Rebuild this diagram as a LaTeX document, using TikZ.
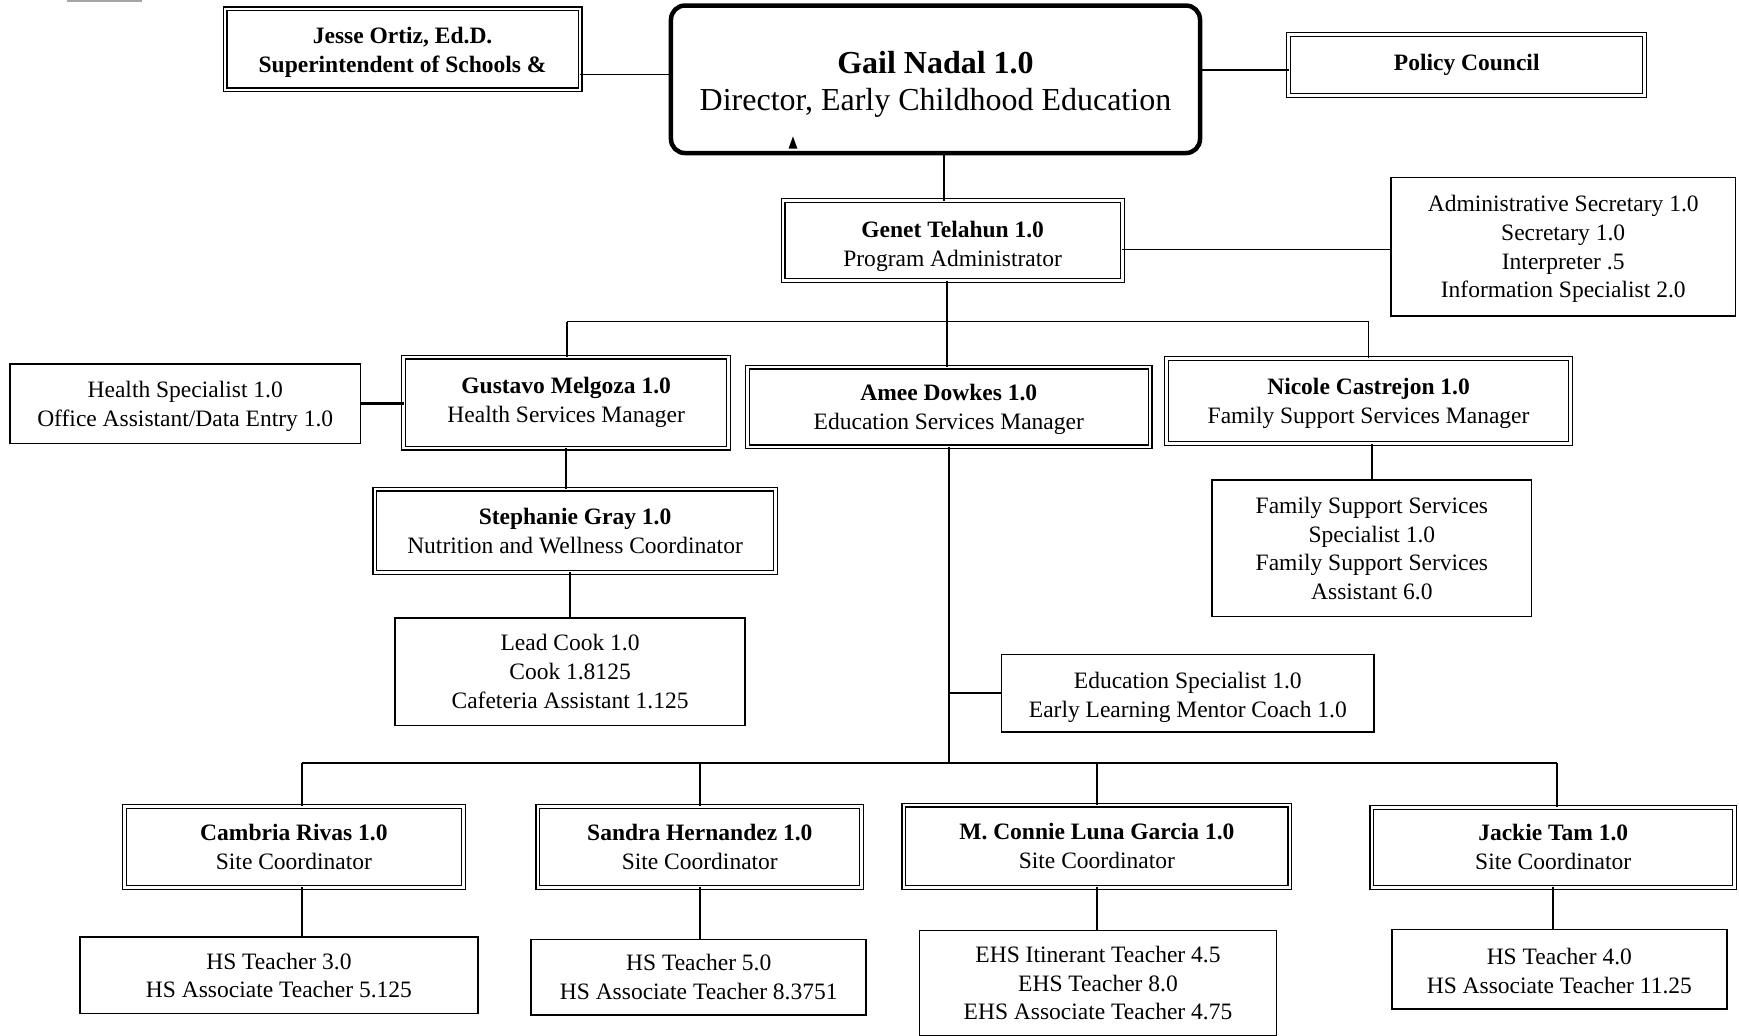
\documentclass[tikz,border=0pt]{standalone}
\usepackage{fontspec}
\setmainfont{Liberation Serif}
\usetikzlibrary{calc}
% invisible strut that sets the height of a first line
\newcommand{\toprule}[1]{\rule{0pt}{#1}}
\begin{document}
\begin{tikzpicture}[x=1.109pt,y=-1.109pt,
  every node/.style={inner sep=0pt, outer sep=0pt, align=center,
    font=\fontsize{23.5}{28.8}\selectfont},
  % a box spanning the corners (#1,#2) and (#3,#4)
  span/.style n args={4}{at={({(#1+#3)/2},{(#2+#4)/2})},
    minimum width={(#3-#1)*1.109pt}, minimum height={(#4-#2)*1.109pt}},
  plainbox/.style={draw, line width=1.6pt},
  dblbox/.style={draw, line width=1.2pt, double, double distance=2.6pt},
  headbox/.style={draw, line width=4.5pt, rounded corners=14pt,
    font=\fontsize{32}{36.6}\selectfont},
  link/.style={line width=1.7pt},
  heavylink/.style={line width=2.8pt}]
\useasboundingbox (0,0) rectangle (1568,934);

% stray mark along the top edge
\draw[gray!70, line width=2.5pt] (60,1) -- (128,1);

% top row
\node[dblbox, span={203}{8}{523}{81}] (jesse)
  {\toprule{23pt}\textbf{Jesse Ortiz, Ed.D.}\\\textbf{Superintendent of Schools \&}};
\node[headbox, span={605}{5}{1082}{138}] (dir)
  {\toprule{32pt}\textbf{Gail Nadal 1.0}\\Director, Early Childhood Education};
\node[dblbox, span={1162}{31}{1483}{86}] (pol) {\textbf{Policy Council}};
\fill (711,134) -- (715,123) -- (719,134) -- cycle;

% program administration
\node[dblbox, span={706}{181}{1012}{253}] (genet)
  {\toprule{27pt}\textbf{Genet Telahun 1.0}\\Program Administrator};
\node[plainbox, span={1254}{160}{1565}{285}] (admin)
  {\toprule{21pt}Administrative Secretary 1.0\\Secretary 1.0\\Interpreter .5\\Information Specialist 2.0};

% managers
\node[plainbox, span={9}{328}{325}{400}] (health)
  {\toprule{22pt}Health Specialist 1.0\\Office Assistant/Data Entry 1.0};
\node[dblbox, span={364}{322}{657}{404}] (gus)
  {\textbf{Gustavo Melgoza 1.0}\\Health Services Manager};
\node[dblbox, span={674}{331}{1037}{403}] (amee)
  {\toprule{21pt}\textbf{Amee Dowkes 1.0}\\Education Services Manager};
\node[dblbox, span={1052}{323}{1416}{400}] (nic)
  {\toprule{21.5pt}\textbf{Nicole Castrejon 1.0}\\Family Support Services Manager};

% health and family support staff
\node[dblbox, span={338}{441}{699}{516}] (steph)
  {\textbf{Stephanie Gray 1.0}\\Nutrition and Wellness Coordinator};
\node[plainbox, span={356}{557}{672}{654}] (cook)
  {Lead Cook 1.0\\Cook 1.8125\\Cafeteria Assistant 1.125};
\node[plainbox, span={1093}{433}{1381}{556}] (fss)
  {Family Support Services\\Specialist 1.0\\Family Support Services\\Assistant 6.0};
\node[plainbox, span={903}{590}{1239}{660}] (edu)
  {\toprule{25pt}Education Specialist 1.0\\Early Learning Mentor Coach 1.0};

% site coordinators
\node[dblbox, span={112}{727}{418}{800}] (cam)
  {\textbf{Cambria Rivas 1.0}\\Site Coordinator};
\node[dblbox, span={485}{727}{777}{800}] (san)
  {\textbf{Sandra Hernandez 1.0}\\Site Coordinator};
\node[dblbox, span={815}{726}{1163}{800}] (con)
  {\textbf{M. Connie Luna Garcia 1.0}\\Site Coordinator};
\node[dblbox, span={1237}{728}{1564}{800}] (jac)
  {\textbf{Jackie Tam 1.0}\\Site Coordinator};

% teaching staff
\node[plainbox, span={72}{845}{431}{914}] (hs1)
  {HS Teacher 3.0\\HS Associate Teacher 5.125};
\node[plainbox, span={479}{847}{781}{915}] (hs2)
  {HS Teacher 5.0\\HS Associate Teacher 8.3751};
\node[plainbox, span={829}{839}{1151}{934}] (ehs)
  {EHS Itinerant Teacher 4.5\\EHS Teacher 8.0\\EHS Associate Teacher 4.75};
\node[plainbox, span={1255}{838}{1557}{910}] (hs4)
  {\toprule{20pt}HS Teacher 4.0\\HS Associate Teacher 11.25};

% bus junctions
\coordinate (busA) at (511,290);
\coordinate (busB) at (1234,290);
\coordinate (busL) at (272,688);
\coordinate (busR) at (1404,688);

% top connectors
\draw[link] ($(jesse.south east)!0.19!(jesse.north east)$) coordinate (j1)
  -- (j1 -| dir.west);
\draw[link] ($(pol.south west)!0.42!(pol.north west)$) coordinate (p1)
  -- (p1 -| dir.east);
\draw[link] ($(dir.south west)!0.516!(dir.south east)$) coordinate (d1)
  -- (d1 |- genet.north);
\draw[link] ($(genet.south east)!0.39!(genet.north east)$) coordinate (g1)
  -- (g1 -| admin.west);

% managers bus
\draw[link] ($(genet.south west)!0.484!(genet.south east)$) coordinate (g2)
  -- (g2 |- busA);
\draw[link] (busA) -- (busB);
\draw[link] (busA) -- (busA |- gus.north);
\draw[link] (busB) -- (busB |- nic.north);
\draw[link] (g2 |- busA) -- (g2 |- amee.north);

% health services
\draw[heavylink] (health.east) -- (health.east -| gus.west);
\draw[link] (gus.south) -- (gus.south |- steph.north);
\draw[link] (cook.north |- steph.south) -- (cook.north);

% family support
\draw[link] (fss.north |- nic.south) -- (fss.north);

% education services
\draw[link] (amee.south) -- (amee.south |- busL);
\draw[link] (edu.west -| amee.south) -- (edu.west);

% sites bus
\draw[heavylink] (busL) -- (busR);
\draw[link] (busL) -- (busL |- cam.north);
\draw[link] (san.north |- busL) -- (san.north);
\draw[link] (con.north |- busL) -- (con.north);
\draw[link] (busR) -- (busR |- jac.north);

% sites to teaching staff
\draw[link] (busL |- cam.south) -- (busL |- hs1.north);
\draw[link] (san.south) -- (san.south |- hs2.north);
\draw[link] (con.south) -- (con.south |- ehs.north);
\draw[link] (jac.south) -- (jac.south |- hs4.north);
\end{tikzpicture}
\end{document}
